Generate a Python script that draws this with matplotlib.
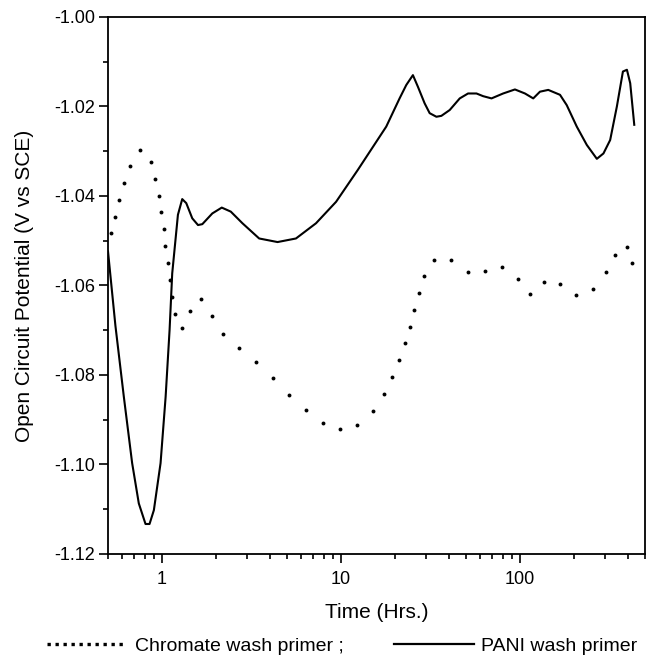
import matplotlib
matplotlib.use("Agg")
import matplotlib.pyplot as plt
from matplotlib.lines import Line2D
from matplotlib.ticker import LogLocator, FixedLocator, MultipleLocator, FormatStrFormatter, NullFormatter

plt.rcParams['font.family'] = ['Liberation Sans', 'DejaVu Sans']
plt.rcParams['axes.unicode_minus'] = False

# PANI wash primer (solid line)
pani_t = [0.5, 0.55, 0.613, 0.682, 0.743, 0.81, 0.853, 0.902, 0.983,
          1.049, 1.104, 1.142, 1.229, 1.299, 1.368, 1.478, 1.591, 1.682, 1.913,
          2.16, 2.426, 2.818, 3.494, 4.426, 5.61, 7.26, 9.4, 12.42, 17.92,
          21.27, 23.19, 25.25, 26.93, 29.36, 31.32, 34.15, 36.41, 40.53, 46.12,
          51.33, 57.2, 62.3, 69.4, 80.6, 93.8, 106.7, 118.7, 129.4, 144.0,
          167.5, 182.6, 207.8, 236.4, 269.0, 292.9, 319.3, 348.1, 376.2, 396.1,
          413.2, 435.3]
pani_v = [-1.0524, -1.0690, -1.0849, -1.0997, -1.1087, -1.1133, -1.1133, -1.1102, -1.0997,
          -1.0849, -1.0699, -1.0573, -1.0442, -1.0407, -1.0416, -1.0450, -1.0465, -1.0463, -1.0439,
          -1.0426, -1.0435, -1.0461, -1.0495, -1.0503, -1.0495, -1.0461, -1.0413, -1.0342, -1.0245,
          -1.0182, -1.0152, -1.0130, -1.0156, -1.0193, -1.0215, -1.0223, -1.0221, -1.0208, -1.0182,
          -1.0171, -1.0171, -1.0177, -1.0182, -1.0171, -1.0162, -1.0171, -1.0182, -1.0167, -1.0163,
          -1.0174, -1.0197, -1.0245, -1.0286, -1.0317, -1.0305, -1.0275, -1.0200, -1.0122, -1.0118,
          -1.0148, -1.0241]

# Chromate wash primer (dots)
chrom_t = [0.52, 0.548, 0.579, 0.618, 0.664, 0.753, 0.868, 0.917, 0.962, 0.991,
           1.022, 1.043, 1.076, 1.108, 1.142, 1.183, 1.299, 1.43, 1.654, 1.898,
           2.196, 2.71, 3.363, 4.171, 5.147, 6.35, 7.9, 9.9, 12.26, 15.08,
           17.3, 19.18, 21.0, 22.68, 24.2, 25.7, 27.19, 29.1, 33.11, 41.44,
           51.33, 63.69, 78.99, 97.46, 114.2, 136.3, 167.0, 205.9, 256.5, 303.3,
           340.6, 396.1, 424.2]
chrom_v = [-1.0482, -1.0446, -1.0408, -1.0370, -1.0332, -1.0297, -1.0324, -1.0361, -1.0399, -1.0436,
           -1.0474, -1.0512, -1.0550, -1.0587, -1.0625, -1.0663, -1.0694, -1.0657, -1.0631, -1.0668,
           -1.0708, -1.0740, -1.0770, -1.0807, -1.0844, -1.0879, -1.0908, -1.0920, -1.0912, -1.0880,
           -1.0842, -1.0805, -1.0767, -1.0729, -1.0692, -1.0655, -1.0617, -1.0579, -1.0542, -1.0544,
           -1.0571, -1.0568, -1.0559, -1.0585, -1.0620, -1.0592, -1.0597, -1.0622, -1.0608, -1.0571,
           -1.0533, -1.0513, -1.0550]

fig = plt.figure(figsize=(6.46, 6.57), dpi=100)
ax = fig.add_axes([0.1672, 0.1568, 0.8313, 0.8174])

ax.plot(pani_t, pani_v, color='black', lw=1.5)
ax.plot(chrom_t, chrom_v, 'o', color='black', ms=2.8, mew=0)

ax.set_xscale('log')
ax.set_xlim(0.5, 500)
ax.set_ylim(-1.12, -1.00)

ax.xaxis.set_major_locator(FixedLocator([1, 10, 100]))
ax.xaxis.set_major_formatter(FormatStrFormatter('%g'))
ax.xaxis.set_minor_locator(LogLocator(base=10, subs=range(2, 10)))
ax.xaxis.set_minor_formatter(NullFormatter())
ax.yaxis.set_major_locator(MultipleLocator(0.02))
ax.yaxis.set_minor_locator(MultipleLocator(0.01))
ax.yaxis.set_major_formatter(FormatStrFormatter('%.2f'))

ax.tick_params(which='both', direction='out', width=1.2, labelsize=13, top=False, right=False)
ax.tick_params(which='major', length=6.5, pad=3)
ax.tick_params(axis='x', which='major', pad=5.5)
ax.tick_params(which='minor', length=3.5)
for s in ax.spines.values():
    s.set_linewidth(1.3)

ax.set_xlabel('Time (Hrs.)', fontsize=15, labelpad=11)
ax.set_ylabel('Open Circuit Potential (V vs SCE)', fontsize=15, labelpad=14)

handles = [Line2D([], [], color='black', lw=2.4, linestyle=(0, (1, 1.4))),
           Line2D([], [], color='black', lw=1.6)]
fig.legend(handles, ['Chromate wash primer ;', 'PANI wash primer'],
           loc='center', bbox_to_anchor=(0.530, 0.0167), ncol=2, frameon=False,
           fontsize=14, handlelength=4.1, handletextpad=0.4, columnspacing=2.6,
           borderpad=0, borderaxespad=0)

fig.savefig('out.png', dpi=100)
